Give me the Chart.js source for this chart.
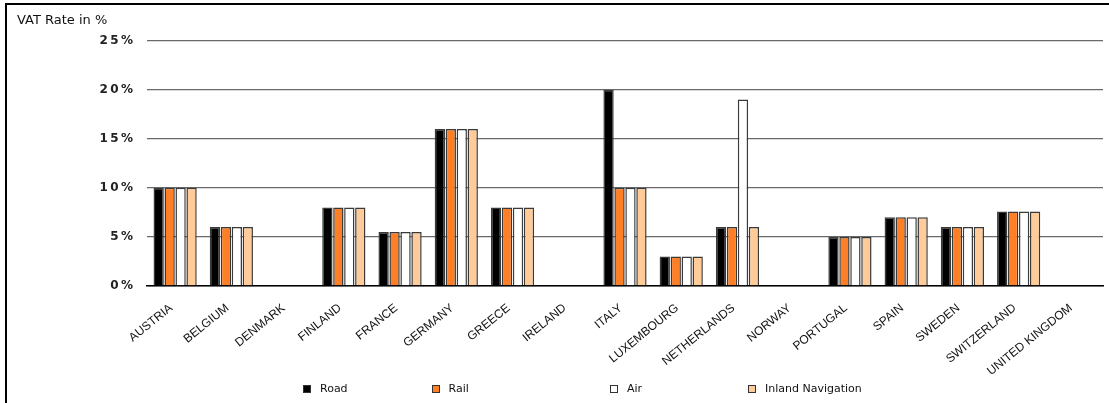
<!DOCTYPE html>
<html>
<head>
<meta charset="utf-8">
<script src="https://cdn.jsdelivr.net/npm/chart.js@4/dist/chart.umd.min.js"></script>
<style>
  html, body { margin: 0; padding: 0; background: #fff; }
  #frame {
    position: absolute; left: 5px; top: 3px;
    width: 1102px; height: 398px;
    border-left: 2px solid #000; border-top: 2px solid #000;
  }
  #vat { display: block; }
  #legende {
    position: absolute; left: 296px; top: 377px;
    display: flex; font: 11px "DejaVu Sans", Arial, sans-serif; color: #111;
  }
  #legende .item { display: flex; align-items: center; }
  #legende .item:nth-child(1) { margin-right: 84px; }
  #legende .item:nth-child(2) { margin-right: 141px; }
  #legende .item:nth-child(3) { margin-right: 106px; }
  #legende .box { width: 6px; height: 6px; border: 1px solid #333; margin-right: 9px; }
</style>
</head>
<body>
<div id="frame">
  <canvas id="vat" width="1102" height="398"></canvas>
  <div id="legende"></div>
</div>
<script>
// Pays et taux de TVA par mode de transport (en %)
const pays = ["AUSTRIA", "BELGIUM", "DENMARK", "FINLAND", "FRANCE", "GERMANY", "GREECE", "IRELAND",
  "ITALY", "LUXEMBOURG", "NETHERLANDS", "NORWAY", "PORTUGAL", "SPAIN", "SWEDEN", "SWITZERLAND", "UNITED KINGDOM"];
const road   = [10, 6, null, 8, 5.5, 16, 8, null, 20, 3, 6, null, 5, 7, 6, 7.6, null];
const rail   = [10, 6, null, 8, 5.5, 16, 8, null, 10, 3, 6, null, 5, 7, 6, 7.6, null];
const air    = [10, 6, null, 8, 5.5, 16, 8, null, 10, 3, 19, null, 5, 7, 6, 7.6, null];
const inland = [10, 6, null, 8, 5.5, 16, 8, null, 10, 3, 6, null, 5, 7, 6, 7.6, null];
const yTicks = [0, 5, 10, 15, 20, 25];

function serie(label, data, couleur) {
  return {
    label: label,
    data: data,
    backgroundColor: couleur,
    borderColor: "#3a3a3a",
    borderWidth: 1.5,
    categoryPercentage: 0.78,
    barPercentage: 0.94
  };
}

const ctx = document.getElementById("vat").getContext("2d");
const chart = new Chart(ctx, {
  type: "bar",
  data: {
    labels: pays,
    datasets: [
      serie("Road", road, "#000000"),
      serie("Rail", rail, "#ff7f27"),
      serie("Air", air, "#ffffff"),
      serie("Inland Navigation", inland, "#ffcc99")
    ]
  },
  options: {
    responsive: false,
    animation: false,
    layout: { padding: { left: 10, right: 6, top: 0, bottom: 0 } },
    plugins: {
      tooltip: { enabled: false },
      legend: { display: false },
      title: {
        display: true,
        text: "VAT Rate in %",
        align: "start",
        color: "#111",
        font: { family: "DejaVu Sans, Arial", size: 13, weight: "normal" },
        padding: { top: 8, bottom: 12 }
      }
    },
    scales: {
      x: {
        grid: { display: false },
        border: { display: true, color: "#000", width: 1.5 },
        ticks: {
          autoSkip: false,
          maxRotation: 39,
          minRotation: 39,
          padding: 7,
          labelOffset: -4,
          color: "#111",
          font: { family: "Liberation Sans Narrow, Liberation Sans, Arial", size: 12 }
        },
        afterFit: function (scale) { scale.height = 117; }
      },
      y: {
        min: 0,
        max: 25,
        afterBuildTicks: function (scale) {
          scale.ticks = yTicks.map(v => ({ value: v }));
        },
        grid: { color: "#6a6a6a", lineWidth: 1.3, drawTicks: false },
        border: { display: false },
        ticks: {
          padding: 14,
          color: "#222",
          font: { family: "DejaVu Sans, Arial", size: 12, weight: "bold" },
          // chiffres espacés comme dans l'original
          callback: v => (v + "%").split("").join("\u2009")
        },
        afterFit: function (scale) { scale.width = 130; }
      }
    }
  }
});

// Légende HTML sous le graphique, construite depuis les séries
const legende = document.getElementById("legende");
chart.data.datasets.forEach(ds => {
  const item = document.createElement("div");
  item.className = "item";
  const box = document.createElement("span");
  box.className = "box";
  box.style.background = ds.backgroundColor;
  item.appendChild(box);
  item.appendChild(document.createTextNode(ds.label));
  legende.appendChild(item);
});
</script>
</body>
</html>
